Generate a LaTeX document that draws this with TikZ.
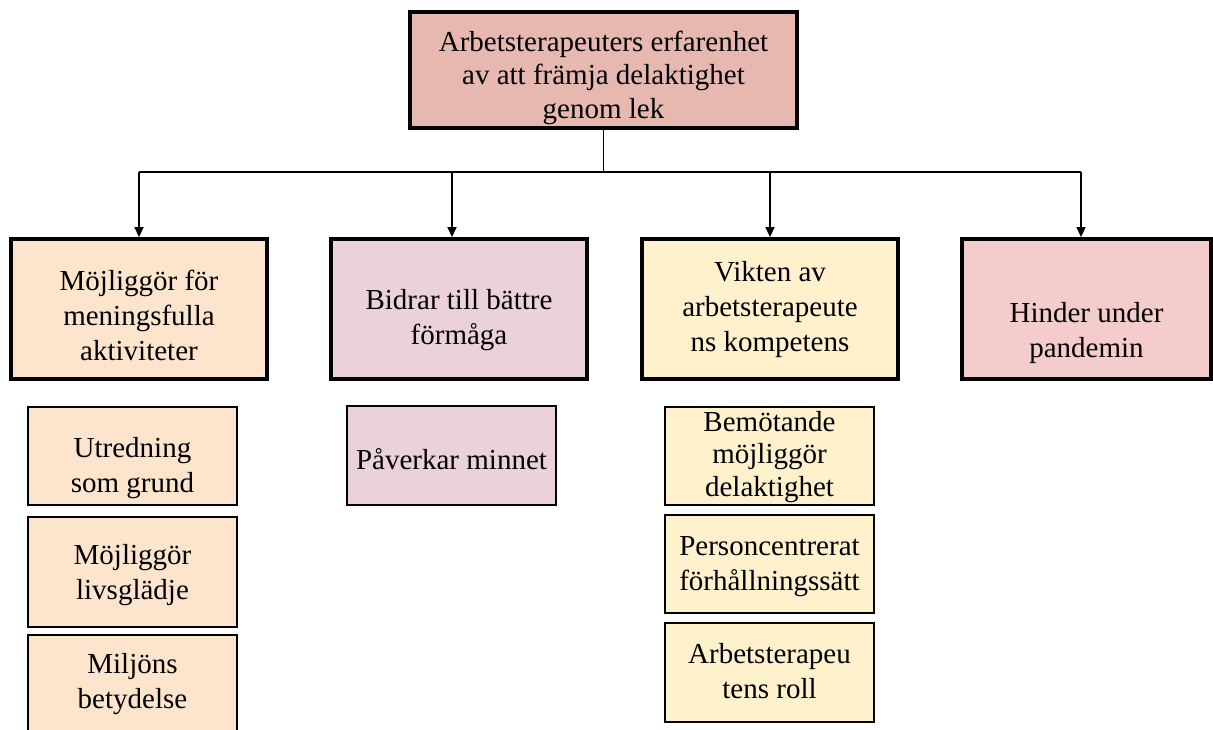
\documentclass[tikz,border=0pt]{standalone}
\usepackage{fontspec}
\setmainfont{Liberation Serif}
\usetikzlibrary{arrows.meta}
\definecolor{ctop}{HTML}{E6B8B0}
\definecolor{cpeach}{HTML}{FCE4CD}
\definecolor{clav}{HTML}{EAD1DC}
\definecolor{cyel}{HTML}{FFF1CC}
\definecolor{cpink}{HTML}{F4CCCC}
\newcommand\mylines[2]{\raisebox{-#1}[\height][\depth]{\begin{tabular}{@{}c@{}}#2\end{tabular}}}
\tikzset{
  basebox/.style={rectangle, draw=black, inner sep=2pt, align=center,
    font=\fontsize{29}{35}\selectfont, text=black},
  bigbox/.style={basebox, line width=3.8pt, minimum width=256pt, minimum height=140pt},
  subbox/.style={basebox, line width=1.6pt, minimum width=209pt, minimum height=98pt},
  conn/.style={line width=1.4pt, draw=black},
  arr/.style={conn, -{Triangle[width=9pt,length=10pt]}}
}
\begin{document}
\begin{tikzpicture}[x=1pt,y=-1pt]
\useasboundingbox (0,0) rectangle (1213,729);
\fill[white] (0,0) rectangle (1213,729);

\node[basebox, line width=3.8pt, fill=ctop, minimum width=387pt, minimum height=116pt,
  font=\fontsize{29}{33.5}\selectfont] (top) at (603.5,70)
  {\mylines{8pt}{Arbetsterapeuters erfarenhet\\av att främja delaktighet\\genom lek}};

\node[bigbox, fill=cpeach] (k1) at (139,309) {\mylines{9pt}{Möjliggör för\\meningsfulla\\aktiviteter}};
\node[bigbox, fill=clav] (k2) at (459,309) {\mylines{11pt}{Bidrar till bättre\\förmåga}};
\node[bigbox, fill=cyel] (k3) at (770,309) {\mylines{0pt}{Vikten av\\arbetsterapeute\\ns kompetens}};
\node[bigbox, fill=cpink, minimum width=249pt] (k4) at (1086.5,309) {\mylines{24pt}{Hinder under\\pandemin}};

\node[subbox, fill=cpeach] (s11) at (132.5,456) {\mylines{12pt}{Utredning\\som grund}};
\node[subbox, fill=cpeach, minimum height=110pt] (s12) at (132.5,572) {\mylines{3pt}{Möjliggör\\livsglädje}};
\node[subbox, fill=cpeach, minimum height=105pt] (s13) at (132.5,687.5) {\mylines{-4pt}{Miljöns\\betydelse}};

\node[subbox, fill=clav, minimum height=99pt] (s21) at (451.5,455.5) {\mylines{7pt}{Påverkar minnet}};

\node[subbox, fill=cyel, inner sep=0pt, font=\fontsize{29}{32.5}\selectfont] (s31) at (769.5,456) {\mylines{1pt}{Bemötande\\möjliggör\\delaktighet}};
\node[subbox, fill=cyel] (s32) at (769.5,564) {\mylines{2pt}{Personcentrerat\\förhållningssätt}};
\node[subbox, fill=cyel, minimum height=99pt] (s33) at (769.5,672.5) {\mylines{1pt}{Arbetsterapeu\\tens roll}};

\coordinate (b1) at (139,172);
\coordinate (b2) at (452,172);
\coordinate (b3) at (770,172);
\coordinate (b4) at (1081,172);

\draw[conn] (top.south) -- (top.south |- b1);
\draw[conn] (b1) -- (b4);
\draw[arr] (b1) -- (b1 |- k1.north);
\draw[arr] (b2) -- (b2 |- k2.north);
\draw[arr] (b3) -- (b3 |- k3.north);
\draw[arr] (b4) -- (b4 |- k4.north);
\end{tikzpicture}
\end{document}
